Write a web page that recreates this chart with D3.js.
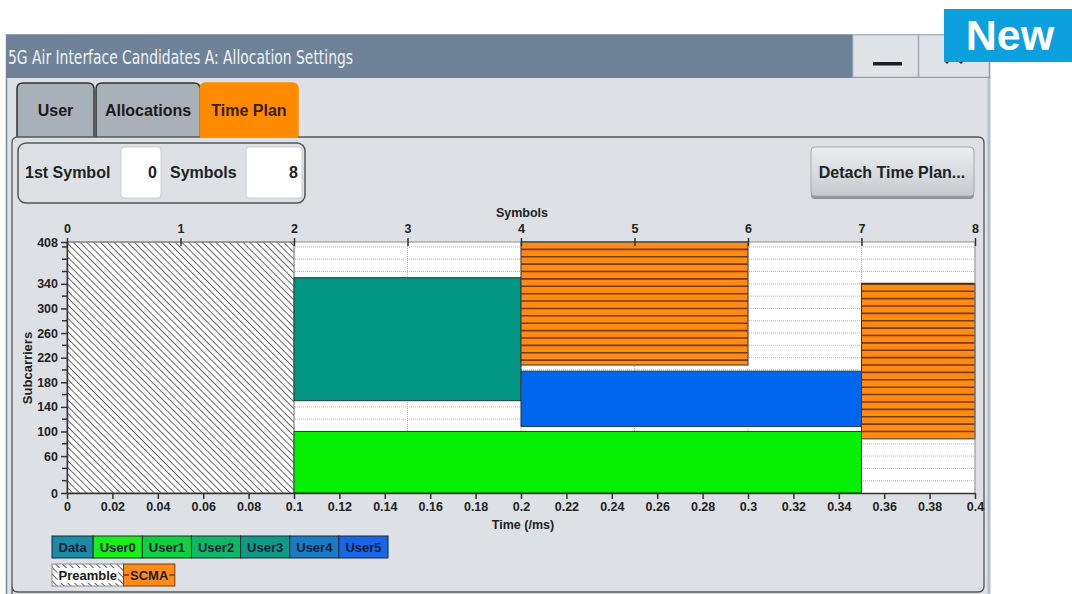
<!DOCTYPE html>
<html><head><meta charset="utf-8">
<script src="https://cdn.jsdelivr.net/npm/d3@7"></script>
<style>
html,body{margin:0;padding:0;background:#fff;}
svg{display:block;font-family:"Liberation Sans",Arial,sans-serif;}
</style></head><body>
<svg id="c" width="1072" height="594"></svg>
<script>
// ---------- data ----------
const windowTitle = "5G Air Interface Candidates A: Allocation Settings";
const tabNames = ["User", "Allocations", "Time Plan"];
const firstSymbol = 0;
const numSymbols = 8;

const symbolTicks = [0, 1, 2, 3, 4, 5, 6, 7, 8];
const timeTicks = [0, 0.02, 0.04, 0.06, 0.08, 0.1, 0.12, 0.14, 0.16, 0.18, 0.2,
                   0.22, 0.24, 0.26, 0.28, 0.3, 0.32, 0.34, 0.36, 0.38, 0.4];
const subcarrierTickLabels = [0, 60, 100, 140, 180, 220, 260, 300, 340, 408];
const subcarrierMinorTicks = [20, 40, 80, 120, 160, 200, 240, 280, 320, 360, 380, 400];
const subcarrierGrid = [20, 40, 60, 80, 100, 120, 140, 160, 180, 200, 220, 240, 260, 280, 300, 320, 340, 360, 380, 400];

// allocations (symbol start/end, subcarrier low/high)
const allocNames   = ["Preamble", "User3", "User0", "SCMA", "User5", "SCMA"];
const allocSymFrom = [0, 2, 2, 4, 4, 7];
const allocSymTo   = [2, 4, 7, 6, 7, 8];
const allocScLow   = [0, 150, 0, 208, 108, 88];
const allocScHigh  = [408, 350, 100, 408, 198, 340];
const scmaLineStep = 12; // one resource block

const legendRow1 = ["Data", "User0", "User1", "User2", "User3", "User4", "User5"];
const legendRow2 = ["Preamble", "SCMA"];

// ---------- styles ----------
const colorOf = {
  Data: "#1b8aa6", User0: "#19f019", User1: "#10d040", User2: "#0fb864",
  User3: "#0f9a86", User4: "#1a7ac2", User5: "#1866e6", SCMA: "#ff8c1a"
};
const blockColor = { User0: "#05f005", User3: "#009682", User5: "#0066ee", SCMA: "#ff8a14" };

const svg = d3.select("#c");
const defs = svg.append("defs");
defs.append("pattern").attr("id", "hatch").attr("patternUnits", "userSpaceOnUse")
  .attr("width", 4.8).attr("height", 4.8).attr("patternTransform", "rotate(-45)")
  .call(p => {
    p.append("rect").attr("width", 4.8).attr("height", 4.8).attr("fill", "#fff");
    p.append("line").attr("x1", 0).attr("y1", 0).attr("x2", 0).attr("y2", 4.8)
      .attr("stroke", "#5a5a5a").attr("stroke-width", 1.8);
  });
const grad = defs.append("linearGradient").attr("id", "btn").attr("x1", 0).attr("y1", 0).attr("x2", 0).attr("y2", 1);
grad.append("stop").attr("offset", "0%").attr("stop-color", "#eceef0");
grad.append("stop").attr("offset", "100%").attr("stop-color", "#c6cacf");

// ---------- window chrome ----------
svg.append("rect").attr("x", 6).attr("y", 78).attr("width", 984).attr("height", 520).attr("fill", "#dde1e5");
svg.append("line").attr("x1", 6.5).attr("y1", 34).attr("x2", 6.5).attr("y2", 594).attr("stroke", "#7f8a94").attr("stroke-width", 1.5);
svg.append("line").attr("x1", 989).attr("y1", 34).attr("x2", 989).attr("y2", 594).attr("stroke", "#b3c0cc").attr("stroke-width", 3);
svg.append("rect").attr("x", 6).attr("y", 34).attr("width", 984).attr("height", 44).attr("fill", "#6f8398");
svg.append("line").attr("x1", 6).attr("y1", 34.5).attr("x2", 990).attr("y2", 34.5).attr("stroke", "#93a3b3");
svg.append("text").attr("x", 8).attr("y", 64).attr("fill", "#eef2f5")
  .attr("font-family", "'DejaVu Sans Condensed','Liberation Sans Narrow',sans-serif")
  .attr("font-stretch", "condensed")
  .attr("font-size", 20).attr("textLength", 345).attr("lengthAdjust", "spacingAndGlyphs")
  .text(windowTitle);
// title buttons
svg.append("rect").attr("x", 853).attr("y", 35).attr("width", 65).attr("height", 42).attr("fill", "#dfe3e7").attr("stroke", "#b6bdc4");
svg.append("rect").attr("x", 919).attr("y", 35).attr("width", 70).attr("height", 42).attr("fill", "#dfe3e7").attr("stroke", "#b6bdc4");
svg.append("rect").attr("x", 873).attr("y", 62).attr("width", 29).attr("height", 3.5).attr("fill", "#1e1e1e");
svg.append("path").attr("d", "M946,47L962,63M962,47L946,63").attr("stroke", "#222").attr("stroke-width", 3);
// badge
svg.append("rect").attr("x", 944).attr("y", 9).attr("width", 128).attr("height", 53).attr("fill", "#0ca0df");
svg.append("text").attr("x", 1010).attr("y", 50).attr("text-anchor", "middle").attr("fill", "#fff")
  .attr("font-weight", "bold").attr("font-size", 43).text("New");

// tabs
const tabX = [17, 96, 200], tabW = [77, 104, 98];
tabNames.forEach((t, i) => {
  const x0 = tabX[i], x1 = tabX[i] + tabW[i], y0 = 83, y1 = 137, r = 6;
  const active = i === 2;
  svg.append("path").attr("d", `M${x0},${y1}L${x0},${y0 + r}Q${x0},${y0} ${x0 + r},${y0}L${x1 - r},${y0}Q${x1},${y0} ${x1},${y0 + r}L${x1},${y1}`)
    .attr("fill", active ? "#ff8c00" : "#a9b1b8").attr("stroke", active ? "#ff8c00" : "#333").attr("stroke-width", 1.5);
  svg.append("text").attr("x", x0 + tabW[i] / 2).attr("y", 116).attr("text-anchor", "middle")
    .attr("font-weight", "bold").attr("font-size", 16).attr("fill", active ? "#3a1a00" : "#1a1a1a").text(t);
});

// panel
svg.append("path").attr("d", "M12,594L12,143Q12,137 18,137L978,137Q984,137 984,143L984,586Q984,592 978,592L18,592Q12,592 12,586")
  .attr("fill", "none").attr("stroke", "#555").attr("stroke-width", 1.3);
svg.append("line").attr("x1", 200).attr("y1", 137).attr("x2", 298).attr("y2", 137).attr("stroke", "#ff8c00").attr("stroke-width", 2);

// group box
svg.append("rect").attr("x", 18).attr("y", 143).attr("width", 287).attr("height", 60).attr("rx", 8)
  .attr("fill", "#dde1e5").attr("stroke", "#555").attr("stroke-width", 1.5);
svg.append("rect").attr("x", 121).attr("y", 147).attr("width", 40).attr("height", 51).attr("rx", 3).attr("fill", "#fff").attr("stroke", "#c9cdd1");
svg.append("rect").attr("x", 246).attr("y", 147).attr("width", 56).attr("height", 51).attr("rx", 3).attr("fill", "#fff").attr("stroke", "#c9cdd1");
const lbl = (x, t, anchor) => svg.append("text").attr("x", x).attr("y", 178).attr("text-anchor", anchor || "start")
  .attr("font-weight", "bold").attr("font-size", 16).attr("fill", "#222").text(t);
lbl(25, "1st Symbol"); lbl(157, String(firstSymbol), "end"); lbl(170, "Symbols"); lbl(298, String(numSymbols), "end");

// detach button
svg.append("rect").attr("x", 811).attr("y", 148).attr("width", 163).attr("height", 51).attr("rx", 4).attr("fill", "#8d9399");
svg.append("rect").attr("x", 811).attr("y", 147).attr("width", 163).attr("height", 49).attr("rx", 4).attr("fill", "url(#btn)").attr("stroke", "#a4aab0");
svg.append("text").attr("x", 892).attr("y", 178).attr("text-anchor", "middle").attr("font-weight", "bold")
  .attr("font-size", 16).attr("fill", "#222").text("Detach Time Plan...");

// ---------- chart ----------
const xL = 67, xR = 975, yT = 242, yB = 493;
const x = d3.scaleLinear().domain([0, 8]).range([xL, xR]);
const xt = d3.scaleLinear().domain([0, 0.4]).range([xL, xR]);
const y = d3.scaleLinear().domain([0, 408]).range([yB, yT]);

const plot = svg.append("g");
plot.append("rect").attr("x", xL).attr("y", yT).attr("width", xR - xL).attr("height", yB - yT).attr("fill", "#fff");
plot.selectAll(".hg").data(subcarrierGrid).join("line")
  .attr("x1", xL).attr("x2", xR).attr("y1", d => y(d)).attr("y2", d => y(d))
  .attr("stroke", "#b8b8b8").attr("stroke-dasharray", "1,1");
plot.selectAll(".vg").data(symbolTicks.slice(1, -1)).join("line")
  .attr("x1", d => x(d)).attr("x2", d => x(d)).attr("y1", yT).attr("y2", yB)
  .attr("stroke", "#b8b8b8").attr("stroke-dasharray", "1,1");

const allocs = allocNames.map((n, i) => ({ name: n, s0: allocSymFrom[i], s1: allocSymTo[i], lo: allocScLow[i], hi: allocScHigh[i] }));
allocs.forEach(a => {
  const fill = a.name === "Preamble" ? "url(#hatch)" : blockColor[a.name];
  plot.append("rect").attr("x", x(a.s0)).attr("y", y(a.hi)).attr("width", x(a.s1) - x(a.s0)).attr("height", y(a.lo) - y(a.hi))
    .attr("fill", fill).attr("stroke", a.name === "Preamble" ? "#777" : "#2a3a3a").attr("stroke-width", 1);
  if (a.name === "SCMA") {
    const ls = d3.range(a.hi - scmaLineStep, a.lo, -scmaLineStep);
    plot.selectAll(null).data(ls).join("line")
      .attr("x1", x(a.s0)).attr("x2", x(a.s1)).attr("y1", d => y(d)).attr("y2", d => y(d))
      .attr("stroke", "#7a3a08").attr("stroke-width", 1.6);
    plot.append("line").attr("x1", x(a.s0)).attr("x2", x(a.s1)).attr("y1", y(a.hi)).attr("y2", y(a.hi))
      .attr("stroke", "#5a2a00").attr("stroke-width", 2);
  }
});
// frame
plot.append("line").attr("x1", xL).attr("x2", xR).attr("y1", yT).attr("y2", yT).attr("stroke", "#8a8a8a");
plot.append("line").attr("x1", xR).attr("x2", xR).attr("y1", yT).attr("y2", yB).attr("stroke", "#8a8a8a");

const axStyle = g => {
  g.selectAll("text").attr("font-weight", "bold").attr("font-size", 12.5).attr("fill", "#222").attr("font-family", "'Liberation Sans',Arial,sans-serif");
  g.selectAll("line").attr("stroke", "#333").attr("stroke-width", 1.5);
  g.select(".domain").attr("stroke", "#333").attr("stroke-width", 1.5);
};
// top axis (symbols)
svg.append("g").attr("transform", `translate(0,${yT + 4})`)
  .call(d3.axisTop(x).tickValues(symbolTicks).tickFormat(d3.format("d")).tickSize(8).tickPadding(5))
  .call(g => g.select(".domain").remove()).call(axStyle);
svg.append("text").attr("x", 522).attr("y", 217).attr("text-anchor", "middle").attr("font-weight", "bold")
  .attr("font-size", 12.5).attr("fill", "#222").text("Symbols");

// bottom axis (time)
svg.append("g").attr("transform", `translate(0,${yB})`)
  .call(d3.axisBottom(xt).tickValues(timeTicks).tickFormat(d => String(+d.toFixed(2))).tickSize(6).tickSizeOuter(0).tickPadding(3))
  .call(axStyle);
svg.append("text").attr("x", 523).attr("y", 529).attr("text-anchor", "middle").attr("font-weight", "bold")
  .attr("font-size", 12.5).attr("fill", "#222").text("Time (/ms)");

// left axis (subcarriers)
svg.append("g").attr("transform", `translate(${xL},0)`)
  .call(d3.axisLeft(y).tickValues(subcarrierTickLabels).tickSize(6).tickSizeOuter(0).tickPadding(3))
  .call(axStyle);
svg.append("g").selectAll("line").data(subcarrierMinorTicks).join("line")
  .attr("x1", xL - 5).attr("x2", xL).attr("y1", d => y(d)).attr("y2", d => y(d)).attr("stroke", "#333").attr("stroke-width", 1.5);
svg.append("text").attr("transform", "translate(32,368) rotate(-90)").attr("text-anchor", "middle")
  .attr("font-weight", "bold").attr("font-size", 13).attr("fill", "#222").text("Subcarriers");

// ---------- legend ----------
const pad = 6.5;
let lx = 52;
const leg1 = svg.append("g");
legendRow1.forEach(n => {
  const t = leg1.append("text").attr("y", 552).attr("font-weight", "bold").attr("font-size", 13).attr("fill", "#10203a").text(n);
  const w = t.node().getComputedTextLength() + 2 * pad;
  leg1.insert("rect", "text").attr("x", lx).attr("y", 536).attr("width", w).attr("height", 22).attr("fill", colorOf[n]).attr("stroke", "#1c2a33").attr("stroke-width", 1);
  t.attr("x", lx + pad);
  lx += w;
});
lx = 52;
const leg2 = svg.append("g");
legendRow2.forEach(n => {
  const t = leg2.append("text").attr("y", 580).attr("font-weight", "bold").attr("font-size", 13).attr("fill", "#1a1a1a").text(n);
  const tw = t.node().getComputedTextLength();
  const w = tw + 2 * pad;
  const g = leg2.insert("g", "text");
  g.append("rect").attr("x", lx).attr("y", 564).attr("width", w).attr("height", 22)
    .attr("fill", n === "Preamble" ? "url(#hatch)" : colorOf[n]).attr("stroke", n === "Preamble" ? "#888" : "#7a3a08");
  if (n === "SCMA") g.append("line").attr("x1", lx).attr("x2", lx + w).attr("y1", 575).attr("y2", 575).attr("stroke", "#7a3a08").attr("stroke-width", 1.5);
  g.append("rect").attr("x", lx + pad - 1).attr("y", 568).attr("width", tw + 2).attr("height", 15)
    .attr("fill", n === "Preamble" ? "#fff" : colorOf[n]);
  t.attr("x", lx + pad);
  lx += w;
});
</script>
</body></html>
